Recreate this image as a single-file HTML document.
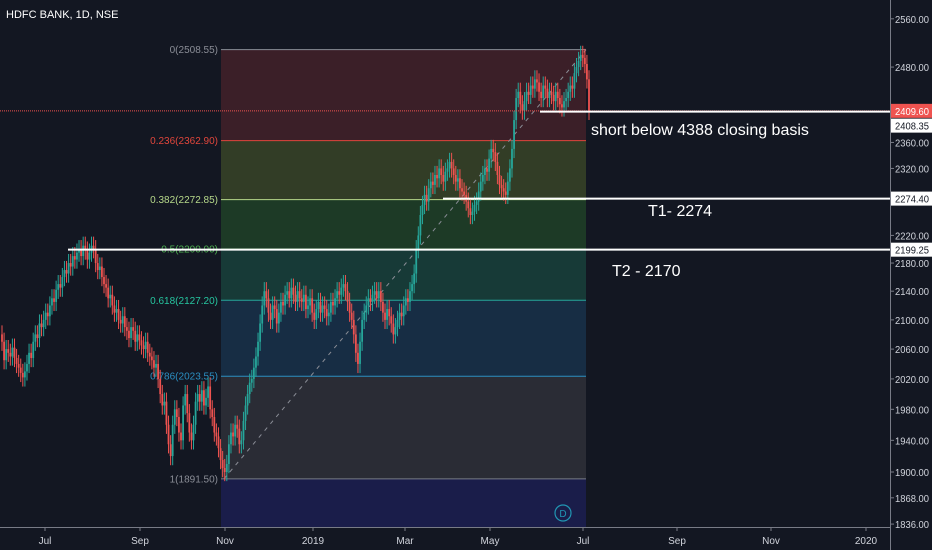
<!DOCTYPE html>
<html><head><meta charset="utf-8"><style>
html,body{margin:0;padding:0;background:#131722;overflow:hidden}
svg{display:block;font-family:"Liberation Sans",sans-serif}
</style></head><body>
<svg id="c" width="932" height="550" xmlns="http://www.w3.org/2000/svg">
<rect width="932" height="550" fill="#131722"/>
</svg>
<script>
const closes=[2070,2045,2060,2055,2050,2062,2048,2040,2035,2028,2022,2030,
2040,2055,2048,2070,2080,2075,2095,2090,2100,2110,2105,2120,
2130,2125,2142,2150,2145,2160,2170,2165,2180,2175,2190,2185,
2195,2200,2190,2205,2198,2185,2195,2205,2200,2180,2170,2175,
2160,2150,2145,2130,2135,2120,2110,2115,2100,2095,2105,2090,
2085,2075,2090,2085,2070,2080,2072,2065,2060,2070,2055,2050,
2045,2035,2040,2020,2000,1985,1990,1960,1935,1920,1960,1980,
1970,1950,1940,1985,2000,1975,1950,1940,1960,1990,2000,1990,
2005,1985,1995,2010,1980,1970,1950,1945,1930,1915,1905,1900,
1910,1935,1950,1945,1960,1955,1935,1940,1965,1985,2000,2015,
2020,2035,2050,2070,2095,2120,2140,2130,2110,2100,2120,2115,
2095,2110,2125,2120,2135,2140,2130,2145,2135,2125,2140,2130,
2125,2135,2115,2120,2130,2110,2100,2115,2125,2110,2120,2115,
2105,2110,2125,2120,2130,2140,2135,2145,2150,2140,2125,2110,
2100,2080,2055,2040,2070,2100,2110,2120,2130,2125,2135,2140,
2130,2140,2125,2110,2100,2115,2105,2095,2080,2090,2100,2110,
2105,2120,2130,2125,2140,2150,2165,2200,2220,2250,2265,2280,
2270,2290,2300,2295,2310,2305,2320,2310,2300,2315,2320,2330,
2320,2310,2300,2305,2290,2285,2280,2270,2260,2250,2255,2265,
2270,2285,2300,2310,2320,2315,2335,2350,2345,2330,2310,2295,
2290,2285,2280,2300,2320,2350,2395,2430,2440,2420,2410,2425,
2440,2435,2450,2445,2460,2455,2440,2430,2450,2445,2430,2440,
2435,2425,2440,2430,2420,2415,2425,2430,2440,2450,2445,2470,
2480,2490,2500,2495,2485,2460,2409.6];
const priceTicks=[2560,2480,2360,2320,2220,2180,2140,2100,2060,2020,1980,1940,1900,1868,1836];
const timeLabels=["Jul","Sep","Nov","2019","Mar","May","Jul","Sep","Nov","2020"];
const timeLabelX=[45,140,225,313,405,490,583,677,771,866];
const fibRatios=["0","0.236","0.382","0.5","0.618","0.786","1"];
const fibPrices=[2508.55,2362.90,2272.85,2200.00,2127.20,2023.55,1891.50];
const hLinePrices=[2408.35,2274.40,2199.25];

const svg=document.getElementById('c');
const NS='http://www.w3.org/2000/svg';
const Y=p=>472-1520*Math.log(p/1900);
const X=i=>2+i*(587/(closes.length-1));
function mk(t,a,parent){const e=document.createElementNS(NS,t);for(const k in a)e.setAttribute(k,a[k]);(parent||svg).appendChild(e);return e;}

const fibFill=['#3b1f28','#323d26','#1d3a26','#173a37','#172d44','#2a2c35'];
const fibLine=['#8a8d96','#e0463c','#b6d88a','#4caf50','#26a69a','#2b8fc2','#787b86'];
const fibText=['#8a8d96','#e0463c','#b6d88a','#4caf50','#26c6a0','#2b8fc2','#8a8d96'];
const bx1=221,bx2=586;
for(let i=0;i<6;i++){
 const r=mk('rect',{x:bx1,y:Y(fibPrices[i]),width:bx2-bx1,height:Y(fibPrices[i+1])-Y(fibPrices[i]),fill:fibFill[i]});
 
 
}
const nz=mk('rect',{x:bx1,y:Y(1891.5),width:bx2-bx1,height:527-Y(1891.5),fill:'#1a1d4a'});


for(let i=0;i<7;i++){
 const y=Y(fibPrices[i]);
 const l=mk('line',{x1:bx1,x2:bx2,y1:y,y2:y,stroke:fibLine[i],'stroke-width':1});
 
 
 const t=mk('text',{x:218,y:y+3.5,'text-anchor':'end','font-size':10,fill:fibText[i]});
 t.textContent=fibRatios[i]+'('+fibPrices[i].toFixed(2)+')';
 
 
}
const tl=mk('line',{x1:224,y1:Y(1891.5),x2:586,y2:Y(2508.55),stroke:'#8a8d96','stroke-width':1,'stroke-dasharray':'4 5'});



for(let i=0;i<closes.length;i++){
 const c=closes[i],o=i?closes[i-1]:c+10;
 const up=c>=o,col=up?'#26a69a':'#ef5350';
 const hi=Math.max(o,c)*1.006,lo=Math.min(o,c)*0.994;
 const x=X(i);
 const g=mk('g',{});
 
 
 mk('line',{x1:x,x2:x,y1:Y(hi),y2:Y(lo),stroke:col,'stroke-width':1},g);
 const yt=Y(Math.max(o,c)),yb=Y(Math.min(o,c));
 mk('rect',{x:x-0.9,y:yt,width:1.8,height:Math.max(1,yb-yt),fill:col},g);
}

const cy=Y(closes[closes.length-1]);
const cp=mk('line',{x1:0,x2:890,y1:cy,y2:cy,stroke:'#ef5350','stroke-width':1,'stroke-dasharray':'1 1'});



const hStart=[540,443,68];
hLinePrices.forEach((p,i)=>{
 const y=Y(p);
 const l=mk('line',{x1:hStart[i],x2:890,y1:y,y2:y,stroke:'#ffffff','stroke-width':2});
 
 
});
const notes=[["short below 4388 closing basis",591,135],["T1- 2274",648,216],["T2 - 2170",612,276]];
notes.forEach(n=>{
 const t=mk('text',{x:n[1],y:n[2],'font-size':16,fill:'#ffffff'});
 t.textContent=n[0];
 
 
});

const dc=mk('circle',{cx:563,cy:513,r:8,fill:'none',stroke:'#2196b3','stroke-width':1.2});


const dt=mk('text',{x:563,y:517,'text-anchor':'middle','font-size':10,fill:'#2196b3'});
dt.textContent='D';



mk('rect',{x:890,y:0,width:42,height:550,fill:'#131722'});
mk('rect',{x:0,y:527,width:932,height:23,fill:'#131722'});
const va=mk('line',{x1:890.5,x2:890.5,y1:0,y2:550,stroke:'#787b86','stroke-width':1});


const ha=mk('line',{x1:0,x2:890,y1:527.5,y2:527.5,stroke:'#787b86','stroke-width':1});


priceTicks.forEach(p=>{
 const y=Y(p);
 mk('line',{x1:890,x2:894,y1:y,y2:y,stroke:'#787b86'});
 const t=mk('text',{x:895,y:y+4,'font-size':10,fill:'#d1d4dc',textLength:34,lengthAdjust:'spacingAndGlyphs'});
 t.textContent=p.toFixed(2);
 
 
});
timeLabels.forEach((s,i)=>{
 const x=timeLabelX[i];
 mk('line',{x1:x,x2:x,y1:527,y2:531,stroke:'#787b86'});
 const t=mk('text',{x:x,y:544,'text-anchor':'middle','font-size':10,fill:'#d1d4dc'});
 t.textContent=s;
 
 
});
function tag(p,y,bg,fg,name){
 const r=mk('rect',{x:891,y:y-7,width:41,height:14,fill:bg});
 
 
 const t=mk('text',{x:895,y:y+4,'font-size':10,fill:fg,textLength:34,lengthAdjust:'spacingAndGlyphs'});
 t.textContent=p.toFixed(2);
 
 
}
tag(closes[closes.length-1],cy,'#ef5350','#ffffff','current-price-tag');
tag(hLinePrices[0],Y(hLinePrices[0])+14,'#ffffff','#131722','line-price-tag');
tag(hLinePrices[1],Y(hLinePrices[1]),'#ffffff','#131722','line-price-tag');
tag(hLinePrices[2],Y(hLinePrices[2]),'#ffffff','#131722','line-price-tag');
const title=mk('text',{x:6,y:18,'font-size':11,fill:'#ffffff'});
title.textContent='HDFC BANK, 1D, NSE';


</script>
</body></html>
